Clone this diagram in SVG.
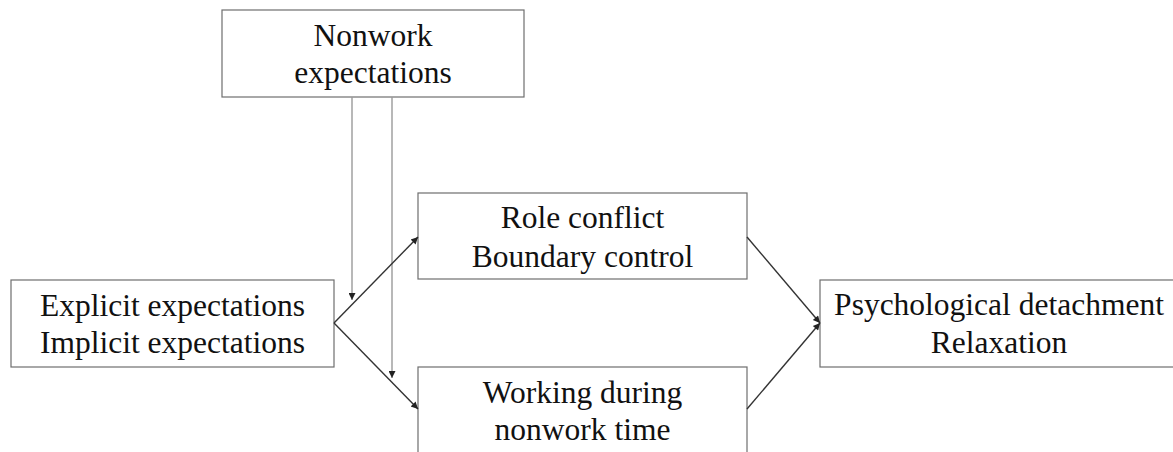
<svg xmlns="http://www.w3.org/2000/svg" width="1173" height="452" viewBox="0 0 1173 452">
<defs>
<style>
.box{fill:#fff;stroke:#6e6e6e;stroke-width:1.2}
.t{font-family:'Liberation Serif','Times New Roman',Times,serif;font-size:31.5px;fill:#111;text-anchor:middle}
.dark{stroke:#333;stroke-width:1.4;fill:none}
.gray{stroke:#9a9a9a;stroke-width:1.4;fill:none}
</style>
<marker id="ah" viewBox="0 0 10 10" refX="10" refY="5" markerWidth="9" markerHeight="7" markerUnits="userSpaceOnUse" orient="auto">
<path d="M0,0 L10,5 L0,10 z" fill="#222"/>
</marker>
</defs>
<rect width="1173" height="452" fill="#fff"/>
<g id="nonwork">
<rect class="box" x="222" y="10" width="302" height="87"/>
<text class="t" font-family="Liberation Serif, serif" x="373" y="46">Nonwork</text>
<text class="t" font-family="Liberation Serif, serif" x="373" y="83">expectations</text>
</g>
<g id="explicit">
<rect class="box" x="11" y="280" width="323" height="87"/>
<text class="t" font-family="Liberation Serif, serif" x="172.5" y="316">Explicit expectations</text>
<text class="t" font-family="Liberation Serif, serif" x="172.5" y="353">Implicit expectations</text>
</g>
<g id="role">
<rect class="box" x="418" y="193" width="329" height="86"/>
<text class="t" font-family="Liberation Serif, serif" x="582.5" y="228">Role conflict</text>
<text class="t" font-family="Liberation Serif, serif" x="582.5" y="267">Boundary control</text>
</g>
<g id="working">
<rect class="box" x="418" y="367" width="329" height="100"/>
<text class="t" font-family="Liberation Serif, serif" x="582.5" y="403">Working during</text>
<text class="t" font-family="Liberation Serif, serif" x="582.5" y="440">nonwork time</text>
</g>
<g id="outcome">
<rect class="box" x="820" y="280" width="360" height="87"/>
<text class="t" font-family="Liberation Serif, serif" x="999" y="315">Psychological detachment</text>
<text class="t" font-family="Liberation Serif, serif" x="999" y="353">Relaxation</text>
</g>
<g id="connectors">
<line class="gray" x1="352" y1="97" x2="352" y2="300" marker-end="url(#ah)"/>
<line class="gray" x1="392" y1="97" x2="392" y2="378" marker-end="url(#ah)"/>
<line class="dark" x1="334" y1="323" x2="418" y2="237" marker-end="url(#ah)"/>
<line class="dark" x1="334" y1="323" x2="418" y2="409" marker-end="url(#ah)"/>
<line class="dark" x1="747" y1="237" x2="820" y2="323" marker-end="url(#ah)"/>
<line class="dark" x1="747" y1="409" x2="820" y2="323" marker-end="url(#ah)"/>
</g>
</svg>
